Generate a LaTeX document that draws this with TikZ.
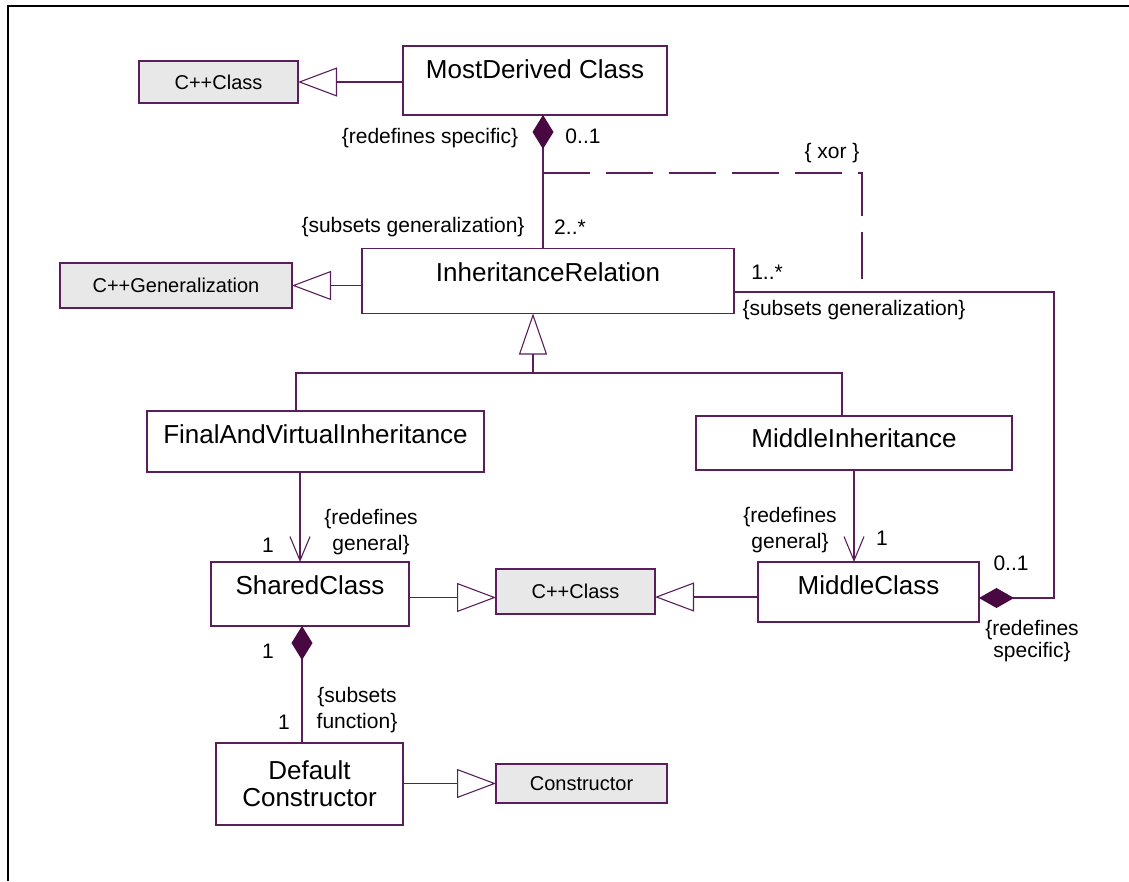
\documentclass[tikz,border=0pt]{standalone}
\usepackage{fontspec}
\setmainfont{Liberation Sans}
\usetikzlibrary{arrows.meta}
\definecolor{linec}{RGB}{90,30,90}
\definecolor{diamc}{RGB}{72,8,66}
\definecolor{grayc}{RGB}{232,232,232}
\tikzset{
  cls/.style={draw=linec, line width=1.2pt, fill=white, inner sep=0pt, outer sep=0pt,
    font=\fontsize{26}{30}\selectfont},
  graybox/.style={draw=linec, line width=1.2pt, fill=grayc, inner sep=0pt, outer sep=0pt,
    font=\fontsize{20}{24}\selectfont},
  lbl/.style={inner sep=0pt, align=center, font=\fontsize{21}{26}\selectfont},
  conn/.style={draw=linec, line width=1.2pt},
  gen/.style={conn, -{Triangle[open, length=39pt, width=29pt, line width=1.1pt]}},
  genv/.style={conn, -{Triangle[open, length=41pt, width=28pt, line width=1.1pt]}},
  nav/.style={conn, -{Straight Barb[length=24pt, width=20pt, line width=1.1pt]}},
  compv/.style={conn, {Diamond[length=34pt, width=21pt, fill=diamc, color=diamc]}-},
  comph/.style={conn, {Diamond[length=35pt, width=20pt, fill=diamc, color=diamc]}-},
  xorline/.style={conn, dash pattern=on 47pt off 16pt},
  frame/.style={draw=black, line width=2.5pt}
}
\begin{document}
\begin{tikzpicture}[x=1pt, y=-1pt]
\useasboundingbox (0,0) rectangle (1129,881);
\draw[frame] (1129,6) -- (8,6) -- (8,881);

% class boxes
\node[cls, minimum width=264pt, minimum height=69pt, text height=32pt, text depth=37pt] (md) at (535,80.5) {MostDerived Class};
\node[graybox, minimum width=159pt, minimum height=42pt] (cpp1) at (218.5,82) {C++Class};
\node[cls, minimum width=372pt, minimum height=65pt, text height=33pt, text depth=32pt] (ir) at (548,281) {InheritanceRelation};
\node[graybox, minimum width=232pt, minimum height=45pt] (cppgen) at (176,285.5) {C++Generalization};
\node[cls, minimum width=337pt, minimum height=61pt, text height=32pt, text depth=29pt] (fav) at (315.5,441.5) {FinalAndVirtualInheritance};
\node[cls, minimum width=316pt, minimum height=54pt, text height=31pt, text depth=23pt] (mi) at (854,443) {MiddleInheritance};
\node[cls, minimum width=198pt, minimum height=64pt, text height=32pt, text depth=32pt] (sc) at (310,594) {SharedClass};
\node[graybox, minimum width=159pt, minimum height=45pt] (cpp2) at (575.5,591.5) {C++Class};
\node[cls, minimum width=221pt, minimum height=60pt, text height=32pt, text depth=28pt] (mc) at (868.5,592) {MiddleClass};
\node[cls, minimum width=187pt, minimum height=82pt, align=center, font=\fontsize{26}{27}\selectfont] (dc) at (309.5,784) {Default\\Constructor};
\node[graybox, minimum width=171pt, minimum height=39pt] (ctor) at (581.5,783.5) {Constructor};

% coordinates
\coordinate (xa) at (543,173);
\coordinate (xb) at (862,173);
\coordinate (xc) at (862,281);
\coordinate (r1) at (1054,292);
\coordinate (r2) at (1054,598);
\coordinate (t1) at (533,373);
\coordinate (tl) at (296,373);
\coordinate (tr) at (842,373);

% connectors
\draw[gen] (md.west |- cpp1.east) -- (cpp1.east);
\draw[gen] (ir.west |- cppgen.east) -- (cppgen.east);
\draw[compv] ([xshift=8pt]md.south) -- ([xshift=8pt]md.south |- ir.north);
\draw[xorline] (xa) -- (xb) -- (xc);
\draw[comph] ([yshift=-6pt]mc.east) -- (r2) -- (r1) -- (r1 -| ir.east);
\draw[genv] (t1) -- (t1 |- ir.south);
\draw[conn] (tl |- fav.north) -- (tl) -- (tr) -- (tr |- mi.north);
\draw[nav] ([xshift=-15.5pt]fav.south) -- ([xshift=-15.5pt]fav.south |- sc.north);
\draw[nav] (mi.south) -- (mi.south |- mc.north);
\draw[gen] ([yshift=-6pt]cpp2.west -| sc.east) -- ([yshift=-6pt]cpp2.west);
\draw[gen] ([yshift=-5.5pt]cpp2.east -| mc.west) -- ([yshift=-5.5pt]cpp2.east);
\draw[compv] ([xshift=-8pt]sc.south) -- ([xshift=-8pt]sc.south |- dc.north);
\draw[gen] (dc.east |- ctor.west) -- (ctor.west);

% labels
\node[lbl] (l1) at (430,138) {\{redefines specific\}};
\node[lbl] (l2) at (583,136) {0..1};
\node[lbl] (l3) at (832,153) {\{ xor \}};
\node[lbl] (l4) at (413,227) {\{subsets generalization\}};
\node[lbl] (l5) at (570,227) {2..*};
\node[lbl] (l6) at (767,272) {1..*};
\node[lbl] (l7) at (854,310) {\{subsets generalization\}};
\node[lbl] (l8) at (268,545) {1};
\node[lbl] (l9) at (371,532) {\{redefines\\general\}};
\node[lbl] (l10) at (790,530) {\{redefines\\general\}};
\node[lbl] (l11) at (882,538) {1};
\node[lbl] (l12) at (1011,563) {0..1};
\node[lbl, font=\fontsize{21}{22}\selectfont] (l13) at (1032,641) {\{redefines\\specific\}};
\node[lbl] (l14) at (268,651) {1};
\node[lbl] (l15) at (357,710) {\{subsets\\function\}};
\node[lbl] (l16) at (284,722) {1};
\end{tikzpicture}
\end{document}
